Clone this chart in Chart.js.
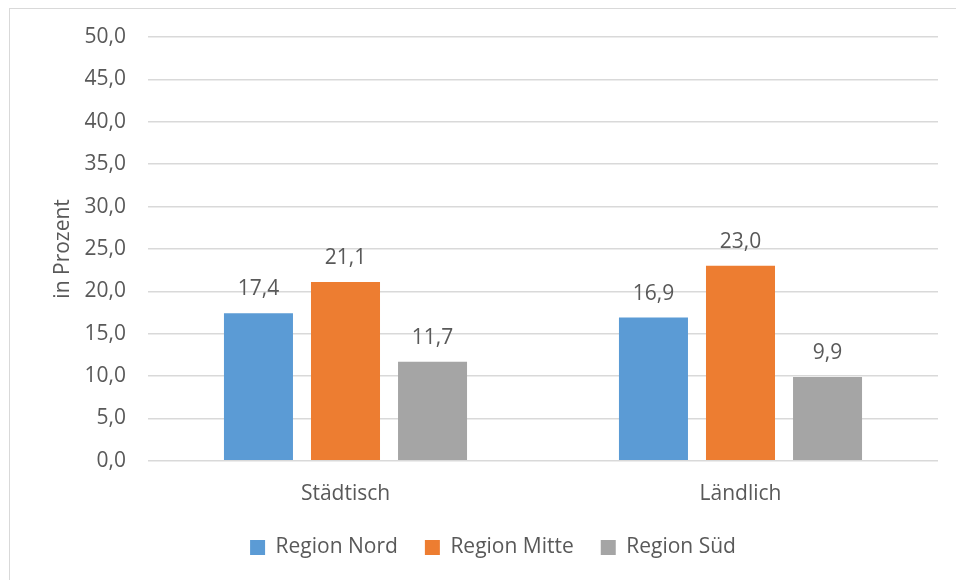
<!DOCTYPE html>
<html lang="de">
<head>
<meta charset="utf-8">
<script src="https://cdn.jsdelivr.net/npm/chart.js@4"></script>
<style>
  html, body { margin: 0; padding: 0; background: #fff; }
  #wrap { position: relative; width: 956px; height: 580px; overflow: hidden; }
  #frame { position: absolute; left: 9px; top: 8px; width: 960px; height: 600px; border: 1px solid #d9d9d9; box-sizing: border-box; }
  canvas { position: absolute; left: 0; top: 0; }
</style>
</head>
<body>
<div id="wrap">
  <div id="frame"></div>
  <canvas id="grafik" width="956" height="580"></canvas>
</div>
<script>
const kategorien = ['Städtisch', 'Ländlich'];
const regionNord = [17.4, 16.9];
const regionMitte = [21.1, 23.0];
const regionSued = [11.7, 9.9];
const achsenTicks = [0, 5, 10, 15, 20, 25, 30, 35, 40, 45, 50];

const textFarbe = '#595959';
const schrift = { family: '"Open Sans", sans-serif', size: 21 };
const komma = v => v.toFixed(1).replace('.', ',');

// Werte über den Balken
const wertBeschriftung = {
  id: 'wertBeschriftung',
  afterDatasetsDraw(chart) {
    const ctx = chart.ctx;
    ctx.save();
    ctx.font = '21px "Open Sans", sans-serif';
    ctx.fillStyle = textFarbe;
    ctx.textAlign = 'center';
    ctx.textBaseline = 'middle';
    chart.data.datasets.forEach((ds, i) => {
      chart.getDatasetMeta(i).data.forEach((bar, j) => {
        ctx.fillText(komma(ds.data[j]), bar.x, bar.y - 24);
      });
    });
    ctx.restore();
  }
};

// Legende verschieben, wie im Original
const legendeVerschieben = {
  id: 'legendeVerschieben',
  afterLayout(chart) {
    chart.legend.left += 19;
    chart.legend.right += 19;
    chart.legend.top -= 10;
    chart.legend.bottom -= 10;
  }
};

new Chart(document.getElementById('grafik').getContext('2d'), {
  type: 'bar',
  data: {
    labels: kategorien,
    datasets: [
      { label: 'Region Nord', data: regionNord, backgroundColor: '#5B9BD5' },
      { label: 'Region Mitte', data: regionMitte, backgroundColor: '#ED7D31' },
      { label: 'Region Süd', data: regionSued, backgroundColor: '#A5A5A5' }
    ]
  },
  options: {
    responsive: false,
    animation: false,
    layout: { padding: { left: 10, right: 18, top: 37, bottom: 2 } },
    datasets: { bar: { categoryPercentage: 0.661, barPercentage: 0.793 } },
    plugins: {
      tooltip: { enabled: false },
      legend: {
        position: 'bottom',
        labels: {
          color: textFarbe,
          font: schrift,
          boxWidth: 15,
          boxHeight: 15,
          padding: 27
        }
      }
    },
    scales: {
      x: {
        grid: { display: false },
        border: { display: false },
        ticks: { color: textFarbe, font: schrift, padding: 13 }
      },
      y: {
        min: 0,
        max: 50,
        afterBuildTicks(scale) { scale.ticks = achsenTicks.map(v => ({ value: v })); },
        afterFit(scale) { scale.width = 138; },
        grid: { color: '#d9d9d9', lineWidth: 1.5, drawTicks: false },
        border: { display: false },
        ticks: { color: textFarbe, font: schrift, padding: 22, callback: v => komma(v) },
        title: {
          display: true,
          text: 'in Prozent',
          color: textFarbe,
          font: schrift,
          padding: { top: 40, bottom: 0 }
        }
      }
    }
  },
  plugins: [wertBeschriftung, legendeVerschieben]
});
</script>
</body>
</html>
